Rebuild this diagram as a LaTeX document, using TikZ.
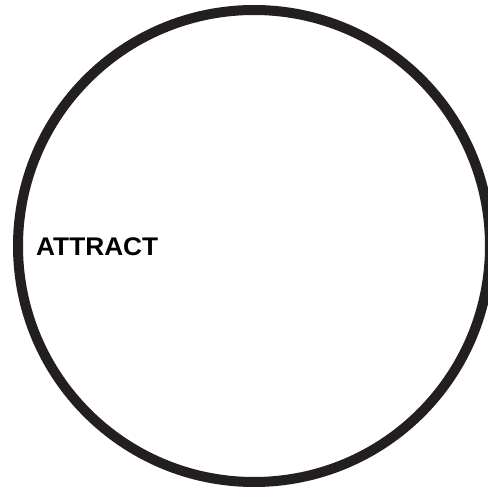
\documentclass[tikz,border=0pt]{standalone}
\usepackage{fontspec}
\setmainfont{Liberation Sans}
\definecolor{ring}{HTML}{231F20}
\begin{document}
\begin{tikzpicture}[x=1pt,y=1pt,
  ringstyle/.style={draw=ring,line width=10pt},
  lbl/.style={font=\bfseries\fontsize{25.5}{30}\selectfont,text=black,inner sep=0pt,anchor=west}]
\useasboundingbox (0,0) rectangle (488,491);
\begin{scope}
\clip (0,0) rectangle (488,491);
\node[ringstyle,circle,minimum size=472pt,inner sep=0pt] (ring) at (254,245) {};
\end{scope}
\node[lbl,xscale=1.03] (attract) at (36,244) {ATTRACT};
\end{tikzpicture}
\end{document}
